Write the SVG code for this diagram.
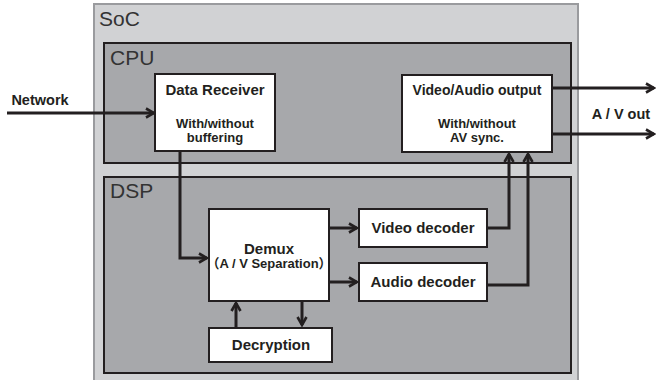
<svg xmlns="http://www.w3.org/2000/svg" width="656" height="380" viewBox="0 0 656 380">
<defs>
<marker id="arr" viewBox="0 0 12 12" refX="10" refY="6" markerWidth="12" markerHeight="12" markerUnits="userSpaceOnUse" orient="auto">
<path d="M2,1.5 L10,6 L2,10.5" fill="none" stroke="#231f20" stroke-width="2.6"/>
</marker>
<style>
.box{fill:#fff;stroke:#231f20;stroke-width:2}
.t{font-family:"Liberation Sans",Arial,"Noto Sans CJK JP",sans-serif;font-weight:bold;fill:#231f20;text-anchor:middle}
.lbl{font-family:"Liberation Sans",Arial,sans-serif;font-size:21px;fill:#333}
.c{fill:none;stroke:#231f20;stroke-width:3}
.ca{fill:none;stroke:#231f20;stroke-width:3;marker-end:url(#arr)}
</style>
</defs>
<rect width="656" height="380" fill="#fff"/>
<g id="soc">
<rect x="94" y="4" width="484" height="380" fill="#d1d2d4" stroke="#9a9b9e" stroke-width="2"/>
<text class="lbl" x="99" y="26">SoC</text>
</g>
<g id="cpu">
<rect x="104" y="43" width="467" height="120" fill="#a7a8ab" stroke="#231f20" stroke-width="2"/>
<text class="lbl" x="110" y="65">CPU</text>
</g>
<g id="dsp">
<rect x="104" y="177" width="467" height="196" fill="#a7a8ab" stroke="#231f20" stroke-width="2"/>
<text class="lbl" x="110" y="198">DSP</text>
</g>
<g id="receiver">
<rect class="box" x="155" y="74" width="120" height="77"/>
<text class="t" x="215" y="95" font-size="15">Data Receiver</text>
<text class="t" x="215" y="128" font-size="13">With/without</text>
<text class="t" x="215" y="142" font-size="13">buffering</text>
</g>
<g id="output">
<rect class="box" x="402" y="75" width="150" height="77"/>
<text class="t" x="477" y="95" font-size="14">Video/Audio output</text>
<text class="t" x="477" y="128" font-size="13">With/without</text>
<text class="t" x="477" y="142" font-size="13">AV sync.</text>
</g>
<g id="demux">
<rect class="box" x="209" y="209" width="120" height="92"/>
<text class="t" x="269" y="254" font-size="15">Demux</text>
<text class="t" x="269" y="268" font-size="13">（A / V Separation）</text>
</g>
<g id="videodec">
<rect class="box" x="359" y="209" width="128" height="38"/>
<text class="t" x="423" y="233" font-size="15">Video decoder</text>
</g>
<g id="audiodec">
<rect class="box" x="359" y="263" width="128" height="38"/>
<text class="t" x="423" y="287" font-size="15">Audio decoder</text>
</g>
<g id="decryption">
<rect class="box" x="209" y="328" width="123" height="34"/>
<text class="t" x="271" y="350" font-size="15">Decryption</text>
</g>
<g id="labels">
<text class="t" x="40" y="105" font-size="14.5">Network</text>
<text class="t" x="621" y="119" font-size="14.5">A / V out</text>
</g>
<g id="connectors">
<path class="ca" d="M7,113 H154"/>
<path class="ca" d="M180,151 V258 H207"/>
<path class="ca" d="M329,228 H357"/>
<path class="ca" d="M329,282 H357"/>
<path class="ca" d="M236,328 V303"/>
<path class="ca" d="M302,301 V325"/>
<path class="ca" d="M487,228 H509 V154"/>
<path class="ca" d="M487,285 H528 V154"/>
<path class="ca" d="M552,88 H654"/>
<path class="ca" d="M552,134 H654"/>
</g>
</svg>
